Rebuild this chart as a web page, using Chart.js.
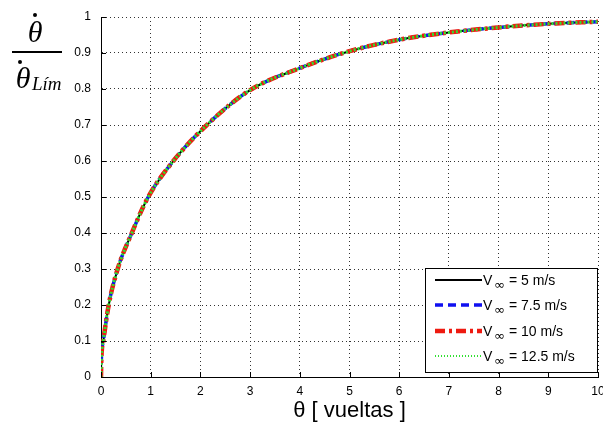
<!DOCTYPE html>
<html>
<head>
<meta charset="utf-8">
<script src="https://cdn.jsdelivr.net/npm/chart.js@4"></script>
<style>
  body { margin: 0; background: #fff; }
  canvas { display: block; }
</style>
</head>
<body>
<canvas id="chart" width="603" height="427"></canvas>
<script>
// theta [vueltas]
const vueltas = [0, 0.005, 0.047, 0.155, 0.335, 0.62, 0.95, 1.455, 2.13, 3, 4, 5, 6, 7, 8, 9, 10];

// ratio theta_dot / theta_dot_lim, the four curves lie on top of each other
const v5 = [0, 0.04, 0.1, 0.2, 0.3, 0.4, 0.5, 0.6, 0.7, 0.797, 0.858, 0.905, 0.937, 0.957, 0.971, 0.981, 0.987];
const v7_5 = [0, 0.04, 0.1, 0.2, 0.3, 0.4, 0.5, 0.6, 0.7, 0.797, 0.858, 0.905, 0.937, 0.957, 0.971, 0.981, 0.987];
const v10 = [0, 0.04, 0.1, 0.2, 0.3, 0.4, 0.5, 0.6, 0.7, 0.797, 0.858, 0.905, 0.937, 0.957, 0.971, 0.981, 0.987];
const v12_5 = [0, 0.04, 0.1, 0.2, 0.3, 0.4, 0.5, 0.6, 0.7, 0.797, 0.858, 0.905, 0.937, 0.957, 0.971, 0.981, 0.987];

const legendNames = ['5 m/s', '7.5 m/s', '10 m/s', '12.5 m/s'];
const xTickLabels = ['0', '1', '2', '3', '4', '5', '6', '7', '8', '9', '10'];
const yTickLabels = ['0', '0.1', '0.2', '0.3', '0.4', '0.5', '0.6', '0.7', '0.8', '0.9', '1'];

function toPoints(ys) {
  return vueltas.map((x, i) => ({ x: x, y: ys[i] }));
}

const styles = [
  { color: '#000000', width: 2, dash: [] },
  { color: '#1010f0', width: 3.5, dash: [8, 5] },
  { color: '#ee1a10', width: 4.5, dash: [10, 4, 3, 4] },
  { color: '#30e030', width: 3, dash: [2, 2] }
];

const series = [v5, v7_5, v10, v12_5];

const datasets = series.map((ys, i) => ({
  label: 'V∞ = ' + legendNames[i],
  data: toPoints(ys),
  showLine: true,
  borderColor: styles[i].color,
  borderWidth: styles[i].width,
  borderDash: styles[i].dash,
  pointRadius: 0,
  cubicInterpolationMode: 'monotone',
  order: 3 - i
}));

const extras = {
  id: 'extras',
  afterDraw(chart) {
    const ctx = chart.ctx;
    const a = chart.chartArea;
    const xs = chart.scales.x;
    const ys = chart.scales.y;
    ctx.save();
    // inner ticks like matlab
    ctx.strokeStyle = '#000';
    ctx.lineWidth = 1;
    ctx.beginPath();
    xs.ticks.forEach((t) => {
      const px = Math.round(xs.getPixelForValue(t.value)) + 0.5;
      ctx.moveTo(px, a.bottom);
      ctx.lineTo(px, a.bottom - 5);
    });
    ys.ticks.forEach((t) => {
      const py = Math.round(ys.getPixelForValue(t.value)) + 0.5;
      ctx.moveTo(a.left, py);
      ctx.lineTo(a.left + 5, py);
    });
    ctx.stroke();

    // legend box
    const bx = 425, by = 268, bw = 172, bh = 104;
    ctx.fillStyle = '#fff';
    ctx.fillRect(bx, by, bw, bh);
    ctx.strokeStyle = '#000';
    ctx.lineWidth = 1;
    ctx.strokeRect(bx + 0.5, by + 0.5, bw, bh);
    const rows = [280, 305, 331, 356];
    rows.forEach((ry, i) => {
      ctx.beginPath();
      ctx.strokeStyle = styles[i].color;
      ctx.lineWidth = i === 3 ? 2 : styles[i].width;
      ctx.setLineDash(i === 3 ? [1, 2] : styles[i].dash);
      ctx.moveTo(435, ry);
      ctx.lineTo(482, ry);
      ctx.stroke();
      ctx.setLineDash([]);
      ctx.fillStyle = '#000';
      ctx.textBaseline = 'alphabetic';
      ctx.textAlign = 'left';
      ctx.font = '14px "Liberation Sans", Arial, sans-serif';
      ctx.fillText('V', 483, ry + 5);
      ctx.font = '13px "DejaVu Sans", sans-serif';
      ctx.fillText('∞', 494, ry + 9);
      ctx.font = '14px "Liberation Sans", Arial, sans-serif';
      ctx.fillText('= ' + legendNames[i], 509, ry + 5);
    });

    // y title as a fraction
    ctx.fillStyle = '#000';
    ctx.font = 'italic 30px "Liberation Serif", "DejaVu Serif", serif';
    ctx.textAlign = 'center';
    ctx.fillText('θ', 35, 42);
    ctx.fillText('θ', 23, 88);
    ctx.beginPath();
    ctx.arc(35, 15, 2, 0, Math.PI * 2);
    ctx.arc(20, 62, 2, 0, Math.PI * 2);
    ctx.fill();
    ctx.fillRect(12, 51, 50, 2);
    ctx.textAlign = 'left';
    ctx.font = 'italic 19px "Liberation Serif", "DejaVu Serif", serif';
    ctx.fillText('Lím', 32, 90);
    ctx.restore();
  }
};

new Chart(document.getElementById('chart'), {
  type: 'scatter',
  data: { datasets: datasets },
  options: {
    responsive: false,
    animation: false,
    layout: { padding: { left: 0, right: 5, top: 17, bottom: 0 } },
    plugins: { legend: { display: false }, tooltip: { enabled: false } },
    scales: {
      x: {
        type: 'linear',
        min: 0,
        max: 10,
        ticks: {
          stepSize: 1,
          color: '#000',
          padding: 7,
          maxRotation: 0,
          font: { family: '"Liberation Sans", Arial, sans-serif', size: 12 },
          callback: (v, i) => xTickLabels[i]
        },
        grid: { color: '#333', drawTicks: false },
        border: { color: '#000', width: 1, dash: [1, 3] },
        title: {
          display: true,
          text: 'θ [ vueltas ]',
          color: '#000',
          font: { family: '"Liberation Sans", Arial, sans-serif', size: 22 },
          padding: { top: 0, bottom: 3 }
        },
        afterFit: (s) => {
          s.height = 50;
          s.paddingLeft = 0;
          s.paddingRight = 0;
        }
      },
      y: {
        type: 'linear',
        min: 0,
        max: 1,
        ticks: {
          stepSize: 0.1,
          color: '#000',
          padding: 10,
          font: { family: '"Liberation Sans", Arial, sans-serif', size: 12 },
          callback: (v, i) => yTickLabels[i]
        },
        grid: { color: '#333', drawTicks: false },
        border: { color: '#000', width: 1, dash: [1, 3] },
        afterFit: (s) => {
          s.width = 101;
          s.paddingTop = 0;
          s.paddingBottom = 0;
        }
      }
    }
  },
  plugins: [extras]
});
</script>
</body>
</html>
